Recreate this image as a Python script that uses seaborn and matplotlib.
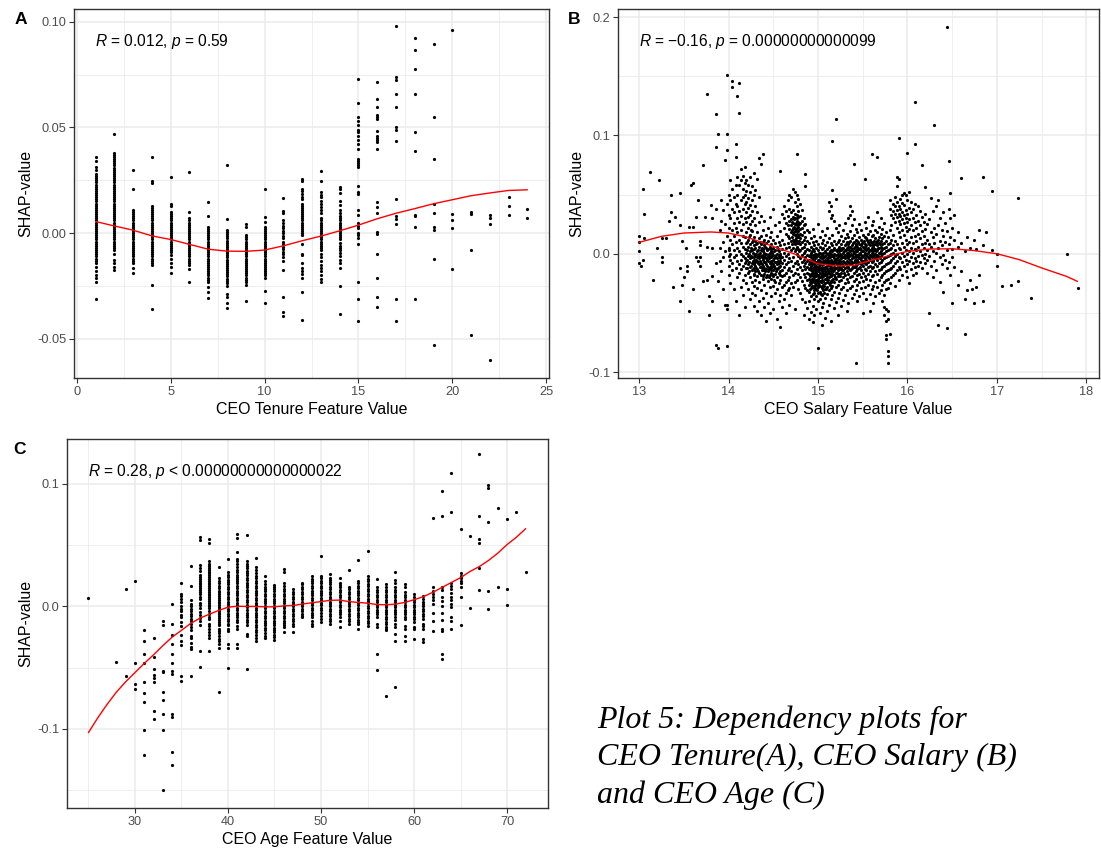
import matplotlib
matplotlib.use("Agg")
import matplotlib.pyplot as plt
import numpy as np
import pandas as pd
import seaborn as sns
from matplotlib.ticker import FormatStrFormatter

# ---------------------------------------------------------------------------
# Data (SHAP values are stored in thousandths)
# ---------------------------------------------------------------------------

# Panel A: CEO tenure (years) -> SHAP values of each firm
tenure_years = list(range(1, 25))
tenure_shap_milli = [
    [36, 34, 31.5, 30, 28, 27, 26, 25, 24, 23, 22, 21, 20, 19, 18, 17, 16, 15, 14, 13, 12, 11, 10, 9, 8, 7, 6, 5, 4, 3, 2, 1, 0,
     -1, -2, -3, -4, -5, -6, -7, -8, -9, -10, -11, -12, -13, -14, -16, -18, -20, -21, -23, -31],
    [47, 38, 37, 36, 35, 34, 33, 32, 31, 30, 29, 28, 27, 26, 25, 24, 23, 22, 21, 20, 19, 18, 17, 16, 15, 14, 13, 12, 11, 10, 9,
     8, 7, 6, 5, 4, 3, 2, 1, 0, -1, -2, -3, -4, -5, -6, -7, -8, -10, -12.5, -14, -16, -17.5],
    [30, 21, 11, 10, 9, 8, 7, 6, 5, 4, 3, 2, 1, 0, -1, -2, -3, -4, -5, -6, -7, -8, -9, -10, -11, -12, -13, -14, -16.5, -19],
    [36, 24.5, 23.5, 13, 12, 11, 10, 9, 8, 7, 6, 5, 4, 3, 2, 1, 0, -1, -2, -3, -4, -5, -6, -7, -8, -9, -10, -11, -12, -13, -14,
     -15, -24.5, -36],
    [26.5, 14, 13, 10, 9, 8, 7, 6, 5, 4, 3, 2, 1, 0, -1, -2, -3, -4, -5, -6, -7, -8, -9, -10.5, -12, -14, -16, -19],
    [29, 10, 7, 6, 5, 4, 3, 2, 1, 0, -1, -2, -3, -4, -5, -6, -7, -8, -9, -10, -11, -12, -13, -14, -15, -17, -23],
    [14.5, 8, 3, 2, 1, 0, -1, -2, -3, -4, -5, -6, -7, -8, -9, -10, -11, -12, -13, -14, -15, -16, -17, -18, -19, -20, -21, -22,
     -23, -25.5, -28, -30.5],
    [32, 6.5, 1.5, 0.5, -0.5, -1.5, -2.5, -3.5, -4.5, -5.5, -6.5, -7.5, -8.5, -9.5, -10.5, -11.5, -12.5, -13.5, -14.5, -15.5,
     -16.5, -17.5, -18.5, -19.5, -20.5, -21.5, -22.5, -23.5, -25, -29, -30, -33, -35.5],
    [4.5, 3, -1, -2, -3, -4, -5, -6, -7, -8, -9, -10, -11, -12, -13, -14, -15, -16, -17, -18, -19, -20, -21, -22, -23, -24.5, -32],
    [21, 7.5, 5.5, 3, 2, 1, 0, -1, -2, -3, -4, -5, -6, -7, -8, -9, -10, -11, -12, -13, -14, -15, -16, -17, -18, -19, -20, -21,
     -27.5, -33],
    [16.5, 10.5, 9.5, 6, 5, 3.5, 2.5, 1, 0, -1.5, -2.5, -4, -5, -6.5, -7.5, -9, -10, -11.5, -13, -17.5, -30, -37.5, -39],
    [25.5, 24.5, 21, 20, 18.5, 17, 16, 14, 13, 12, 11, 10, 9, 8, 7, 6, 5, 4, 3, 2, 1, 0, -1, -5, -10, -10.5, -14, -16.5, -18,
     -19.5, -21, -28, -41],
    [29.5, 24.5, 19.5, 18, 17, 15, 14, 12.5, 11, 9.5, 7, 6, 5, 4, 3, 2, 1, 0, -1, -2, -3, -4, -5, -6, -7, -8, -10, -11.5, -13,
     -15, -16.5, -18, -20, -21.5, -23],
    [22, 21, 19, 15, 13.5, 11, 9.5, 8, 7, 6, 5, 4, 3, 2, 1, 0, -1, -2, -3, -4.5, -6, -7, -8, -9.5, -11, -12.5, -14, -16.5, -25, -38],
    [73, 61.5, 55, 53, 51, 49, 48, 46, 44, 42, 40, 35, 34, 33, 32, 31.5, 22.5, 19.5, 18.5, 11, 8.5, 5, 3.5, 2.5, 0, -1, -2.5,
     -5, -23, -31, -41.5],
    [71.5, 63.5, 59.5, 56, 55, 54, 48.5, 46, 45, 44, 43, 40, 14.5, 12.5, 9.5, 0.5, -0.5, -10, -21, -30, -35],
    [98, 74, 72.5, 66, 59.5, 50, 49, 43.5, 16, 8, 6.5, 4.5, -31, -41.5],
    [92.5, 86.5, 77.5, 66, 48, 39, 8.7, 7.9, 3, -31],
    [89.5, 55, 35, 14, 9.5, 3, 1.5, -12, -53],
    [96, 9, 6, 2.5, -17],
    [10, 9, -8, -48],
    [8.5, 7, 4.5, -60],
    [17, 13, 8.5],
    [11.5, 7],
]
tenure_trend_milli = [5.5, 3.4, 1.4, -1.3, -3, -5.3, -7.6, -8.5, -8.6, -8, -6, -3.6, -1.4, 1.1, 3.8, 6.8, 9.4, 11.6,
                      13.9, 15.8, 17.7, 19, 20.2, 20.5]

# Panel B: CEO salary (log scale feature) -> SHAP values, grouped by feature value
salary_columns = [
    (13.00, [15, 2, -8, 10]), (13.02, [-10]), (13.04, [55, -5]), (13.06, [34, 13]), (13.12, [69]), (13.16, [-22]),
    (13.20, [5]), (13.22, [62]), (13.26, [-3, -7, 13]), (13.30, [13]), (13.34, [28]), (13.36, [35, 50]),
    (13.38, [-28]), (13.40, [31]), (13.46, [24, -12, -40, 51]), (13.48, [11, -26]), (13.50, [-20]), (13.52, [5]),
    (13.54, [-10, -15]), (13.56, [23, -48]), (13.58, [58]), (13.60, [60, 23, -30]), (13.64, [31, -3]),
    (13.66, [45, -6]), (13.68, [-3, -10, 7, 11]), (13.72, [-23, 75]), (13.74, [31]), (13.76, [-22, 6, 135]),
    (13.78, [-52, -36]), (13.80, [41]), (13.82, [30, -40, 5, -19]), (13.86, [90, 118, -8, 38, -77]),
    (13.88, [101, -23, -80]), (13.90, [5, -6, 20]), (13.92, [28, 45, -15]), (13.94, [37, 10, -3, -30]),
    (13.96, [79, -43, 25, 2]), (13.98, [151, 101, 88, -43, -47, -78, 42, 15]),
    (14.00, [5, -2, 33, 22, -10, -18, 50, 3]), (14.02, [30, 12, -5, 45, -25, 0, 62]),
    (14.04, [146, 141, 38, 20, 8, -8, -14, 55]), (14.06, [26, 15, 3, -3, -30, 48, 35]),
    (14.08, [82, 93, 42, 22, 10, -1, -12, -40, 58]), (14.10, [133, 30, 18, 5, -6, -20, 50, 40, 65]),
    (14.12, [119, 144, 36, 27, 12, 2, -9, -16, -52, 58]), (14.14, [72, 62, 45, 32, 20, 9, 0, -5, -13, -28]),
    (14.16, [55, 48, 38, 25, 15, 6, -2, -10, -22, -35, 66]), (14.18, [73, 60, 50, 42, 30, 14, 4, -4, -8, -18, -45]),
    (14.20, [62, 53, 44, 35, 27, 18, 9, 1, -6, -12, -25]), (14.22, [58, 47, 39, 31, 22, 12, 6, -2, -9, -16, -30]),
    (14.24, [65, 52, 41, 33, 25, 16, 8, 2, -4, -11, -20, -38]),
    (14.26, [57, 45, 36, 28, 19, 10, 3, -3, -8, -14, -24, -33]),
    (14.28, [68, 50, 30, 14, 7, 0, -5, -12, -18, -27, -44]), (14.30, [54, 40, 24, 11, 5, -1, -7, -10, -15, -22, -35]),
    (14.32, [63, 35, 18, 9, 2, -3, -6, -13, -19, -29, -48]), (14.34, [81, 48, 27, 13, 6, 0, -4, -9, -16, -24, -40]),
    (14.36, [76, 32, 15, 8, 3, -2, -8, -11, -18, -31, -52]), (14.38, [84, 20, 10, 4, -1, -5, -10, -14, -21, -37]),
    (14.40, [28, 12, 7, 1, -3, -7, -12, -17, -26, -45]), (14.42, [16, 9, 5, 0, -4, -9, -13, -20, -33, -57]),
    (14.44, [22, 11, 4, -2, -6, -11, -15, -23, -42]), (14.46, [31, 14, 6, 1, -3, -8, -12, -18, -28, -50]),
    (14.48, [18, 8, 2, -2, -6, -10, -16, -21, -36]), (14.50, [38, 12, 5, -1, -5, -9, -14, -19, -27, -47]),
    (14.52, [24, 9, 3, -3, -7, -12, -17, -24, -33]), (14.54, [15, 6, 0, -4, -9, -13, -20, -30, -55]),
    (14.56, [27, 10, 2, -2, -8, -11, -16, -25, -40]), (14.58, [70, 19, 7, -1, -6, -10, -15, -22, -35, -62]),
    (14.60, [34, 12, 4, -3, -8, -14, -19, -28, -45]), (14.62, [40, 30, 22, 8, 1, -5, -11, -18, -26, -38]),
    (14.64, [36, 26, 17, 5, -2, -9, -16, -24, -33, -50]), (14.66, [45, 32, 24, 15, 9, 0, -7, -14, -22, -31]),
    (14.68, [50, 38, 28, 21, 13, 6, -4, -12, -20, -29, -43]),
    (14.70, [48, 35, 29, 24, 18, 11, 3, -6, -15, -25, -35]),
    (14.72, [55, 37, 31, 26, 22, 17, 12, 5, -3, -10, -18, -28]),
    (14.74, [52, 44, 34, 30, 25, 21, 16, 12, 8, 2, -8, -16, -24, -47]),
    (14.76, [84, 50, 40, 33, 28, 24, 20, 15, 11, 6, 0, -6, -13, -22]),
    (14.78, [46, 36, 31, 27, 23, 19, 14, 9, 4, -2, -9, -17, -30]),
    (14.80, [42, 32, 26, 21, 17, 13, 8, 3, -4, -11, -20, -33]),
    (14.82, [37, 28, 22, 16, 10, 5, -1, -7, -14, -23, -38]),
    (14.84, [30, 24, 18, 12, 6, 1, -5, -10, -17, -26, -52]),
    (14.86, [67, 57, 25, 14, 8, 2, -3, -8, -13, -20, -29, -41]),
    (14.88, [20, 11, 4, -1, -6, -11, -16, -22, -31, -46]),
    (14.90, [18, 9, 3, -2, -5, -9, -13, -17, -21, -26, -32, -40, -55]),
    (14.92, [13, 6, 1, -3, -7, -10, -14, -18, -22, -25, -29, -36, -49]),
    (14.94, [21, 10, 4, -1, -4, -8, -12, -15, -19, -23, -28, -34, -44, -58]),
    (14.96, [15, 7, 2, -2, -6, -9, -11, -14, -17, -20, -24, -27, -31, -38, -52]),
    (14.98, [11, 5, 0, -3, -7, -10, -13, -16, -19, -22, -26, -30, -36, -47]),
    (15.00, [25, 8, 3, -1, -5, -8, -12, -15, -18, -21, -25, -28, -33, -40, -80]),
    (15.02, [14, 6, 1, -3, -6, -9, -13, -16, -20, -23, -27, -32, -38, -50]),
    (15.04, [19, 9, 4, 0, -4, -7, -11, -14, -17, -20, -24, -29, -35, -45, -60]),
    (15.06, [12, 5, 1, -2, -6, -9, -12, -16, -19, -23, -26, -31, -42]),
    (15.08, [16, 7, 2, -2, -5, -8, -11, -15, -18, -21, -25, -30, -37, -54]),
    (15.10, [22, 10, 4, 0, -4, -7, -10, -13, -17, -20, -24, -28, -34, -48]),
    (15.12, [44, 36, 13, 6, 1, -3, -6, -9, -13, -16, -20, -25, -31, -43]),
    (15.14, [40, 30, 9, 3, -1, -5, -8, -12, -15, -19, -23, -29, -38, -57]),
    (15.16, [95, 54, 33, 16, 7, 2, -2, -6, -9, -13, -17, -22, -27, -35]),
    (15.18, [28, 11, 5, 0, -4, -7, -11, -14, -18, -24, -32, -46]),
    (15.20, [114, 46, 22, 8, 3, -1, -5, -8, -12, -16, -21, -28, -41]),
    (15.22, [18, 10, 4, 0, -3, -7, -10, -14, -19, -26, -37, -52]),
    (15.24, [24, 12, 6, 2, -2, -5, -9, -13, -17, -23, -33]),
    (15.26, [15, 8, 3, -1, -4, -8, -12, -16, -22, -30, -44]),
    (15.28, [20, 11, 5, 1, -3, -6, -10, -14, -20, -28, -39]),
    (15.30, [26, 13, 7, 3, -1, -4, -8, -12, -18, -25, -35]),
    (15.32, [17, 10, 5, 1, -2, -6, -10, -15, -21, -31, -48]),
    (15.34, [30, 14, 8, 4, 0, -3, -7, -11, -17, -24, -42]),
    (15.36, [40, 33, 19, 11, 6, 2, -1, -5, -9, -14, -20, -29]),
    (15.38, [36, 24, 13, 7, 3, -1, -4, -8, -12, -19, -27, -37]),
    (15.40, [76, 29, 16, 10, 5, 1, -3, -7, -11, -16, -23, -34]),
    (15.42, [21, 12, 7, 2, -2, -6, -10, -15, -21, -31, -92]),
    (15.44, [18, 11, 6, 2, -1, -5, -9, -13, -18, -26, -40]),
    (15.46, [25, 14, 8, 4, 0, -4, -8, -12, -17, -24, -36]),
    (15.48, [20, 12, 7, 3, -1, -5, -9, -14, -20, -29]),
    (15.50, [16, 10, 6, 2, -2, -6, -10, -16, -23, -33, -50]),
    (15.52, [63, 27, 14, 8, 4, 0, -4, -8, -13, -19, -28]),
    (15.54, [22, 13, 7, 3, -1, -5, -9, -14, -21, -38]),
    (15.56, [31, 17, 10, 5, 1, -3, -7, -11, -17, -26]),
    (15.58, [19, 12, 7, 3, -1, -5, -10, -15, -22, -34, -48]),
    (15.60, [84, 24, 15, 9, 5, 1, -3, -7, -12, -19, -30]),
    (15.62, [28, 16, 10, 6, 2, -2, -6, -11, -18, -27, -42]),
    (15.64, [20, 13, 8, 4, 0, -4, -9, -15, -24, -36]),
    (15.66, [82, 35, 18, 11, 7, 3, -1, -5, -10, -17, -28]),
    (15.68, [23, 14, 9, 5, 1, -3, -8, -14, -22, -33]),
    (15.70, [30, 17, 11, 6, 2, -2, -7, -13, -20, -31]),
    (15.72, [21, 13, 8, 4, 0, -5, -11, -18, -26, -40]),
    (15.74, [26, 15, 9, 5, 1, -4, -10, -16, -24, -35, -45, -52]),
    (15.76, [18, 11, 6, 2, -3, -9, -15, -22, -30, -47, -57, -69, -72]),
    (15.78, [14, 8, 3, -2, -8, -14, -21, -29, -48, -55, -82, -86, -92]),
    (15.80, [45, 38, 20, 9, 4, -1, -7, -13, -25, -68]),
    (15.82, [33, 24, 12, 5, 0, -5, -12, -20]),
    (15.84, [42, 36, 30, 16, 7, 1, -4, -10, -18]),
    (15.86, [48, 40, 34, 27, 11, 3, -2, -8, -16, -27]),
    (15.88, [65, 57, 44, 37, 31, 22, 8, 0, -6, -14]),
    (15.90, [98, 63, 40, 34, 28, 18, 5, -3, -11, -22]),
    (15.92, [46, 38, 32, 25, 14, 4, -4, -13]),
    (15.94, [50, 43, 35, 29, 20, 9, 1, -7, -18]),
    (15.96, [51, 41, 33, 26, 16, 6, -2, -10]),
    (15.98, [50, 37, 30, 23, 12, 3, -5, -15]),
    (16.00, [85, 45, 34, 27, 19, 8, 0, -9, -20]),
    (16.02, [52, 39, 29, 21, 10, 2, -6, -25]),
    (16.04, [44, 35, 24, 14, 5, -3, -13]),
    (16.06, [38, 30, 20, 9, 1, -8, -18]),
    (16.08, [128, 93, 42, 27, 15, 4, -4, -11]),
    (16.10, [33, 22, 11, 3, -6, -16]),
    (16.12, [40, 28, 17, 6, -2, -10]),
    (16.14, [36, 24, 13, 2, -7]),
    (16.16, [75, 31, 19, 8, -1, -12]),
    (16.18, [27, 15, 5, -4]),
    (16.20, [56, 34, 21, 9, 0, -8]),
    (16.22, [25, 12, 3, -5, -16]),
    (16.24, [-50, 29, 8, -2]),
    (16.26, [47, 18, 6, -10]),
    (16.28, [36, 14, 2, -20]),
    (16.30, [109, 22, 9, -6]),
    (16.32, [40, 17, 1, -14]),
    (16.34, [45, 24, 5, -60]),
    (16.36, [30, 11, -3, -24]),
    (16.38, [20, 7, -9]),
    (16.40, [35, 15, -1, -32]),
    (16.42, [26, 10, -5]),
    (16.44, [192, 19, 3, -12, -63]),
    (16.46, [78, 38, 8, -7]),
    (16.48, [51, 30, 14, -18]),
    (16.50, [22, 4, -3, -42]),
    (16.52, [33, 12, -11]),
    (16.56, [18, 6, -26]),
    (16.60, [64, 9, -15]),
    (16.64, [-68, -38, 2]),
    (16.66, [14, -31]),
    (16.70, [5, -22]),
    (16.72, [-30]),
    (16.74, [-42, 12]),
    (16.76, [-28, 4]),
    (16.80, [20, -18]),
    (16.84, [65, -40, 7]),
    (16.88, [18]),
    (16.94, [53, 3]),
    (17.00, [0, -10]),
    (17.06, [-27]),
    (17.16, [-26]),
    (17.24, [47, -23]),
    (17.38, [-37]),
    (17.78, [0]),
    (17.90, [-29]),
    # firms packed in the dense cores
    (14.21, [3, -5, -12, 10]), (14.23, [0, -7, 14, -15]), (14.25, [5, -2, -10, 20]), (14.27, [1, -6, -13, 12]),
    (14.29, [4, -3, -9, -17]), (14.31, [8, 0, -5, -12]), (14.33, [3, -2, -8, -15]), (14.35, [10, 1, -6, -11]),
    (14.37, [5, -3, -9, -14]), (14.39, [2, -4, -12, -19]), (14.41, [6, -1, -7, -15]), (14.43, [3, -5, -10, -18]),
    (14.45, [0, -4, -13, -20]), (14.47, [4, -3, -8, -14]), (14.49, [1, -6, -11, -17]), (14.51, [2, -4, -10, -22]),
    (14.53, [-1, -7, -15]), (14.55, [3, -6, -12]), (14.57, [0, -4, -18]),
    (14.71, [27, 20, 14, 8]), (14.73, [29, 23, 18, 10]), (14.75, [26, 19, 13, 4]), (14.77, [30, 22, 17, 9]),
    (14.79, [25, 16, 11, 2]),
    (14.91, [-1, -7, -12, -19, -24, -30]), (14.93, [2, -5, -9, -16, -21, -27]), (14.95, [-3, -6, -13, -17, -22, -33]),
    (14.97, [0, -4, -11, -15, -25, -29]), (14.99, [-2, -8, -12, -18, -23, -31]), (15.01, [1, -5, -10, -14, -20, -26]),
    (15.03, [-2, -7, -12, -19, -24, -34]), (15.05, [0, -4, -9, -15, -22, -28]), (15.07, [-3, -8, -13, -18, -27, -33]),
    (15.09, [1, -6, -11, -16, -21, -30]), (15.11, [-1, -5, -9, -15, -22]), (15.13, [2, -3, -10, -17, -26]),
    (15.15, [0, -6, -11, -18, -24]), (15.17, [3, -2, -9, -15, -21]), (15.19, [-1, -5, -12, -20]),
    (15.21, [2, -4, -9, -16]), (15.23, [4, -1, -8, -13]), (15.25, [0, -6, -11, -19]), (15.27, [5, -3, -9, -14]),
    (15.29, [2, -2, -7, -16]), (15.31, [8, 3, -3, -9]), (15.33, [6, 1, -4, -12]), (15.35, [10, 3, -2, -8]),
    (15.37, [5, 0, -6, -13]), (15.39, [9, 2, -3, -10]), (15.41, [6, 0, -5, -11]), (15.43, [8, 3, -3, -9]),
    (15.45, [10, 4, -2, -7]), (15.47, [5, 1, -4, -11]), (15.49, [9, 2, -3, -8]), (15.51, [11, 5, -1, -6]),
    (15.53, [6, 1, -5]), (15.55, [12, 4, -2]), (15.57, [8, 2, -4]), (15.59, [10, 3, -2]), (15.61, [7, 0, -5]),
    (15.63, [11, 4, -1]), (15.65, [9, 2, -3]), (15.67, [12, 5, -2]), (15.69, [8, 1, -4]),
]
salary_trend_x = [13.0, 13.25, 13.5, 13.8, 14.0, 14.2, 14.5, 14.73, 15.0, 15.22, 15.4, 15.55, 15.76, 16.0, 16.25,
                  16.5, 16.73, 17.0, 17.25, 17.5, 17.78, 17.9]
salary_trend_milli = [9.6, 14.7, 17.5, 18.4, 17.5, 14.1, 6.2, 0, -8.5, -10.3, -9.9, -6.5, -2.3, 2, 4, 4.2, 2.8, 0,
                      -5, -12, -19.2, -23.4]

# Panel C: CEO age (years) -> SHAP values
age_years = [25, 28, 29, 30, 31, 32, 33, 34, 35, 36, 37, 38, 39, 40, 41, 42, 43, 44, 45, 46, 47, 48, 49, 50, 51, 52,
             53, 54, 55, 56, 57, 58, 59, 60, 61, 62, 63, 64, 65, 66, 67, 68, 69, 70, 71, 72]
age_shap_milli = [
    [7],
    [-45],
    [14.5, -57],
    [20.5, -46.5, -63, -67],
    [-19.5, -28, -39, -46.5, -61.5, -70.5, -78, -100.5, -121],
    [-25.5, -41, -51, -56, -58, -62, -85.5, -92],
    [-11.5, -15.5, -52.5, -53.5, -70, -76.5, -87.5, -100.5, -149.5],
    [2, -14, -23.5, -31, -39, -46, -53, -55, -87.5, -90.5, -119, -129.5],
    [19.5, 10, 8.5, 6, 3.5, 0, -2, -4, -7, -9, -13, -16, -23.5, -28, -31.5, -57, -61],
    [33, 17, 5, 2, 0, -2, -4, -6, -8, -10, -12, -14, -17, -19.5, -24, -26, -30, -33, -35, -57],
    [56.5, 54, 33.5, 31, 29, 26, 24, 22.5, 21, 19.5, 18, 16.5, 15, 13.5, 12, 10.5, 8, 6, 3, 1, -1, -4.5, -7, -9.5, -12,
     -15, -36, -49],
    [55, 52, 37, 35, 33, 31.5, 30, 28.5, 27, 25.5, 24, 22.5, 21, 19.5, 18, 16.5, 15, 13.5, 12, 10.5, 9, 7.5, 6, 4.5, 3,
     1.5, 0, -1.5, -3.5, -6.5, -8.5, -10.5, -14.5, -16, -18.5, -21, -23.5, -25.5, -36],
    [32.5, 23, 21, 19, 17, 15, 13, 11.5, 10, 8.5, 7, 5.5, 4, 2.5, 1, -0.5, -2, -3.5, -5, -6.5, -8, -9.5, -11, -12.5, -14,
     -15.5, -18.5, -20, -22, -24.5, -26.5, -28, -31, -33.5, -70],
    [39, 28, 26, 24, 22, 20, 18, 16, 14, 12, 10, 8, 6, 4, 2, 0, -2, -4, -6, -8, -10, -12, -14, -15, -18, -20, -31, -33.5,
     -50.5],
    [59, 56, 44.5, 39, 37, 35, 32, 30, 28, 26, 24, 22.5, 21, 19, 17, 15, 13, 11, 9, 7, 5, 3, 1, -1, -3, -5, -7, -9, -11,
     -13, -16, -18.5, -31, -34],
    [58, 37, 35, 33, 31, 29, 27, 25.5, 23.5, 21.5, 19.5, 17.5, 15.5, 13.5, 11.5, 9.5, 7.5, 5.5, 3.5, 1.5, -0.5, -2.5,
     -5, -7, -9, -11, -13, -15.5, -22.5, -24.5, -51],
    [39.5, 32, 30, 27.5, 25, 23, 21, 19, 17, 15, 13, 11, 9, 7, 5, 3, 1, -1, -3, -5, -7, -9, -11, -13, -15, -17, -19, -21,
     -23, -25.5, -28],
    [24.5, 21, 18.5, 16, 14, 12.5, 10.5, 8.5, 6.5, 4.5, 2.5, 0.5, -1.5, -3.5, -5.5, -7.5, -9.5, -11.5, -13.5, -15.5,
     -17.5, -19.5, -21.5, -24, -25.5],
    [17.5, 16, 14, 12.5, 10.5, 8.5, 6.5, 4.5, 2.5, 0.5, -1.5, -3.5, -5.5, -7.5, -9.5, -11.5, -13.5, -15.5, -17.5, -19.5,
     -21, -23, -25, -27.5],
    [30.5, 28, 19.5, 16.5, 14.5, 12.5, 10.5, 8.5, 6.5, 4.5, 2.5, 0.5, -1.5, -3.5, -5.5, -7.5, -9.5, -11.5, -13.5, -15.5,
     -17, -20.5],
    [14.5, 12, 10, 8, 6, 4, 2, 0, -2, -4, -6, -8, -10, -12, -14, -16, -21],
    [19.5, 18, 16, 14, 12, 10, 8, 6, 4, 2, 0, -2, -4, -6, -8, -9],
    [24.5, 22.5, 21, 19, 17, 15, 13, 11, 9, 7, 5, 3, 1, -1, -3, -5, -7, -8.5, -11.5, -14, -16],
    [41, 25, 23, 21, 19, 17, 15, 13, 11, 9, 7, 5, 3, 1, -1, -3, -5, -7.5, -10, -12.5],
    [26.5, 23.5, 22, 20, 18, 16, 14, 12, 10, 8, 6, 4, 2, 0, -2, -4, -6, -8, -10, -12, -14.5],
    [23, 19.5, 17.5, 15.5, 13.5, 11.5, 9.5, 7.5, 5.5, 3.5, 1.5, -0.5, -2.5, -4.5, -6.5, -8.5, -11.5, -16.5],
    [30, 16, 14, 12, 10, 8, 6, 4, 2, 0, -2, -4, -6, -8, -10, -12, -14.5],
    [38, 21, 19, 17, 15, 13, 11, 9, 7, 5, 3, 1, -1, -3, -5, -7, -9, -11, -13, -14.5, -18],
    [45.5, 25, 22.5, 20.5, 18.5, 16.5, 14.5, 12.5, 10.5, 8.5, 6.5, 4.5, 2.5, 0.5, -1.5, -3.5, -5.5, -7.5, -9.5, -11.5,
     -13.5, -16],
    [22.5, 15.5, 13.5, 11.5, 9.5, 7.5, 5.5, 3.5, 1.5, -0.5, -2.5, -4.5, -6.5, -9, -14, -17, -39, -52],
    [18, 15.5, 13.5, 11.5, 9.5, 7.5, 5.5, 3.5, 1.5, -0.5, -2.5, -4.5, -6.5, -8.5, -10.5, -12.5, -14.5, -16.5, -18.5,
     -19.5, -73],
    [28, 21.5, 19, 15.5, 13.5, 11.5, 9.5, 7.5, 5.5, 3.5, 1.5, -0.5, -2.5, -4.5, -6.5, -9, -11, -14.5, -17, -22.5, -28,
     -66],
    [18.5, 15.5, 11.5, 9.5, 7.5, 5.5, 3.5, 1.5, -0.5, -2.5, -4.5, -6.5, -9, -10.5, -16, -18.5, -24, -28],
    [10, 7.5, 5.5, 3.5, 1.5, -0.5, -2.5, -4.5, -6.5, -8.5, -10.5, -13, -17, -18.5, -26.5],
    [8.5, 6, 4, 2, 0, -2, -4, -6, -8, -10.5, -14, -16, -18.5, -26.5, -29],
    [72.5, 15.5, 12.5, 10, 7.5, 5, 2, -5, -12, -20],
    [94.5, 73.5, 16, 13.5, 7.5, 4.5, 0, -5.5, -11, -18.5, -20, -39, -43],
    [109, 77, 19.5, 17, 14, 11, 7.5, 5, 2, -0.5, -8.5, -11.5, -18.5],
    [63.5, 27.5, 25, 23, 21, 19.5, 15.5, 8, -15],
    [57.5, -1],
    [124.5, 73.5, 55, 51.5, 31.5, 13.5],
    [99, 97, 69, 13, -2],
    [80.5, 15.5],
    [71.5, 14.5, 1.5],
    [77],
    [28],
]
age_trend_x = [25, 26, 27, 28, 29, 30, 31, 32, 33, 34, 35, 36, 37, 38, 39, 40, 41, 42, 43, 44, 45, 46, 47, 48, 49,
               50, 51, 52, 53, 54, 55, 56, 57, 58, 59, 60, 61, 62, 63, 64, 65, 66, 67, 68, 69, 70, 71, 72]
age_trend_milli = [-103, -91, -80, -70, -61.5, -54, -46.5, -39.5, -32, -25, -19.5, -13.8, -9.5, -6.3, -3.3, -0.6, 0.2,
                   0, 0, -0.3, -0.3, 0.5, 0.8, 2, 3, 4, 5, 5.2, 4, 3.3, 2.7, 1.6, 1.4, 1.9, 3.3, 5.5, 8, 11.5,
                   15.5, 19.5, 23.5, 28.5, 32.5, 37.5, 43.5, 50.5, 56.5, 63.5]

stat_labels = [r"$\mathit{R}$ = 0.012, $\mathit{p}$ = 0.59",
               r"$\mathit{R}$ = −0.16, $\mathit{p}$ = 0.00000000000099",
               r"$\mathit{R}$ = 0.28, $\mathit{p}$ < 0.00000000000000022"]
panel_tags = ["A", "B", "C"]
x_titles = ["CEO Tenure Feature Value", "CEO Salary Feature Value", "CEO Age Feature Value"]
caption = "Plot 5: Dependency plots for\nCEO Tenure(A), CEO Salary (B)\nand CEO Age (C)"

# ---------------------------------------------------------------------------
# Tidy frames
# ---------------------------------------------------------------------------
tenure_df = pd.DataFrame([(t, v / 1000) for t, vals in zip(tenure_years, tenure_shap_milli) for v in vals],
                         columns=["feature", "shap"])
salary_df = pd.DataFrame([(s, v / 1000) for s, vals in salary_columns for v in vals], columns=["feature", "shap"])
age_df = pd.DataFrame([(a, v / 1000) for a, vals in zip(age_years, age_shap_milli) for v in vals],
                      columns=["feature", "shap"])
tenure_trend = pd.DataFrame({"feature": tenure_years, "shap": np.array(tenure_trend_milli) / 1000})
salary_trend = pd.DataFrame({"feature": salary_trend_x, "shap": np.array(salary_trend_milli) / 1000})
age_trend = pd.DataFrame({"feature": age_trend_x, "shap": np.array(age_trend_milli) / 1000})

# ---------------------------------------------------------------------------
# Figure
# ---------------------------------------------------------------------------
sns.set_theme(style="white")
plt.rcParams["font.family"] = ["Liberation Sans", "DejaVu Sans"]
plt.rcParams["mathtext.fontset"] = "custom"
plt.rcParams["mathtext.it"] = "Liberation Sans:italic"
plt.rcParams["mathtext.rm"] = "Liberation Sans"
plt.rcParams["axes.unicode_minus"] = False

W, H = 1101, 852
fig = plt.figure(figsize=(W / 100, H / 100), dpi=100)
fig.patch.set_facecolor("white")


def px_axes(left, top, right, bottom):
    return fig.add_axes([left / W, 1 - bottom / H, (right - left) / W, (bottom - top) / H])


ax_a = px_axes(74, 9, 549, 378)
ax_b = px_axes(618, 9, 1099, 378)
ax_c = px_axes(67, 439, 548, 808)

panels = [
    (ax_a, tenure_df, tenure_trend, (-0.15, 25.15), (-0.0685, 0.106), np.arange(0, 26, 5), np.arange(2.5, 25, 5),
     [-0.05, 0.0, 0.05, 0.10], [-0.025, 0.025, 0.075], "%.2f", "%d"),
    (ax_b, salary_df, salary_trend, (12.765, 18.14), (-0.105, 0.2068), np.arange(13, 19, 1), np.arange(13.5, 18, 1),
     [-0.1, 0.0, 0.1, 0.2], [-0.05, 0.05, 0.15], "%.1f", "%d"),
    (ax_c, age_df, age_trend, (22.7, 74.4), (-0.1645, 0.1367), np.arange(30, 71, 10), np.arange(25, 76, 10),
     [-0.1, 0.0, 0.1], [-0.15, -0.05, 0.05], "%.1f", "%d"),
]

for i, (ax, df, trend, xlim, ylim, xmaj, xmin, ymaj, ymin, yfmt, xfmt) in enumerate(panels):
    ax.set_facecolor("white")
    sns.scatterplot(data=df, x="feature", y="shap", ax=ax, s=5.2, color="black", linewidth=0, marker="o",
                    alpha=1.0, zorder=3)
    sns.lineplot(data=trend, x="feature", y="shap", ax=ax, color="red", linewidth=1.0, estimator=None,
                 sort=False, zorder=4)
    ax.set_xticks(xmaj)
    ax.set_xticks(xmin, minor=True)
    ax.set_yticks(ymaj)
    ax.set_yticks(ymin, minor=True)
    ax.set_xlim(*xlim)
    ax.set_ylim(*ylim)
    ax.xaxis.set_major_formatter(FormatStrFormatter(xfmt))
    ax.yaxis.set_major_formatter(FormatStrFormatter(yfmt))
    ax.grid(which="major", color="#EBEBEB", linewidth=1.1)
    ax.grid(which="minor", color="#EBEBEB", linewidth=0.6)
    ax.set_axisbelow(True)
    for sp in ax.spines.values():
        sp.set_visible(True)
        sp.set_color("#333333")
        sp.set_linewidth(1.0)
    ax.tick_params(which="major", direction="out", length=3.5, width=0.8, color="#333333", labelsize=9.2,
                   labelcolor="#4D4D4D", pad=2.0, bottom=True, left=True)
    ax.tick_params(which="minor", length=0)
    ax.set_xlabel(x_titles[i], fontsize=11.5, color="black", labelpad=3)
    ax.set_ylabel("SHAP-value", fontsize=11.5, color="black", labelpad=3)
    ax.text(0.044, 0.911, stat_labels[i], transform=ax.transAxes, ha="left", va="center", fontsize=11.2,
            color="black")

for tag, (x, y) in zip(panel_tags, [(21, 20), (574, 20), (20, 450)]):
    fig.text(x / W, 1 - y / H, tag, ha="center", va="center", fontsize=12.5, fontweight="bold", color="black")

fig.text(597 / W, 1 - 758 / H, caption, ha="left", va="center", fontsize=23, style="italic",
         family=["Liberation Serif", "DejaVu Serif"], color="black", linespacing=1.36)

fig.savefig("out.png", dpi=100, facecolor="white")
